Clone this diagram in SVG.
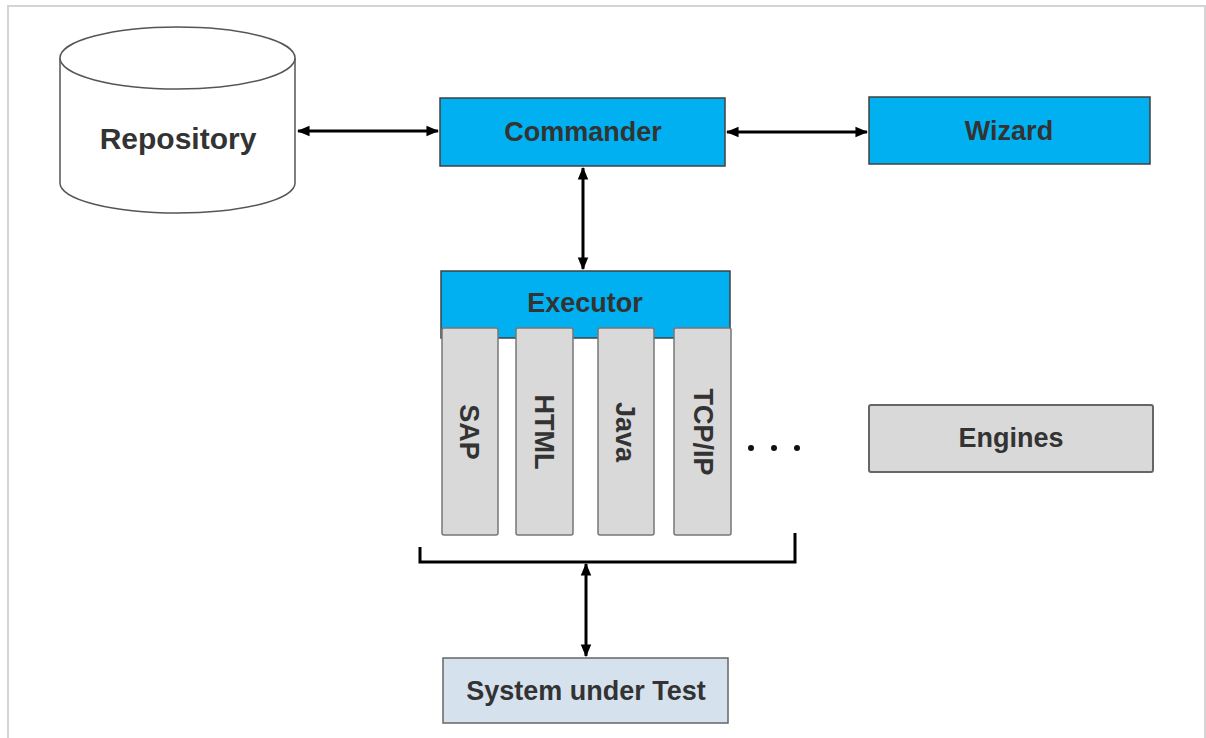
<svg xmlns="http://www.w3.org/2000/svg" width="1206" height="738" viewBox="0 0 1206 738">
<style>
.t{font-family:"Liberation Sans",Arial,sans-serif;fill:#333;text-anchor:middle;dominant-baseline:central}
.b{font-weight:bold;font-size:27px}
.blue{fill:#00B0F0;stroke:#404040;stroke-width:1.5}
.gray{fill:#D9D9D9;stroke:#666;stroke-width:2}
.col{fill:#D9D9D9;stroke:#777;stroke-width:1.5}
.conn{stroke:#000;stroke-width:3;fill:none}
</style>
<defs>
<marker id="ah" viewBox="0 0 12 10" refX="11" refY="5" markerWidth="4.2" markerHeight="3.8" orient="auto-start-reverse" markerUnits="strokeWidth">
<path d="M0,0 L12,5 L0,10 Z" fill="#000"/>
</marker>
</defs>
<rect x="0" y="0" width="1206" height="738" fill="#fff"/>
<path d="M8,740 V6 H1205 V740" fill="none" stroke="#d4d4d4" stroke-width="2"/>

<g id="repository">
<path d="M60,58 V183 A117.5,30 0 0 0 295,183 V58" fill="#fff" stroke="#555" stroke-width="1.5"/>
<ellipse cx="177.5" cy="58" rx="117.5" ry="31" fill="#fff" stroke="#555" stroke-width="1.5"/>
<text class="t" x="178" y="138" font-weight="bold" font-size="30">Repository</text>
</g>

<g id="commander">
<rect class="blue" x="440" y="98" width="285" height="68"/>
<text class="t b" x="583" y="132">Commander</text>
</g>

<g id="wizard">
<rect class="blue" x="869" y="97" width="281" height="67"/>
<text class="t b" x="1009" y="131">Wizard</text>
</g>

<g id="executor">
<rect class="blue" x="441" y="271" width="289" height="67"/>
<text class="t b" x="585" y="303">Executor</text>
</g>

<g id="engine-sap">
<rect class="col" x="442" y="328" width="56" height="207" rx="2"/>
<text class="t b" transform="translate(469,432) rotate(90)">SAP</text>
</g>
<g id="engine-html">
<rect class="col" x="516" y="328" width="57" height="207" rx="2"/>
<text class="t b" transform="translate(544,432) rotate(90)">HTML</text>
</g>
<g id="engine-java">
<rect class="col" x="598" y="328" width="56" height="207" rx="2"/>
<text class="t b" transform="translate(625,432) rotate(90)">Java</text>
</g>
<g id="engine-tcpip">
<rect class="col" x="674" y="328" width="57" height="207" rx="2"/>
<text class="t b" transform="translate(703,432) rotate(90)">TCP/IP</text>
</g>

<g id="more">
<circle cx="751" cy="448" r="3" fill="#111"/>
<circle cx="774" cy="448" r="3" fill="#111"/>
<circle cx="797" cy="448" r="3" fill="#111"/>
</g>

<g id="engines">
<rect class="gray" x="869" y="405" width="284" height="67" rx="2"/>
<text class="t b" x="1011" y="438">Engines</text>
</g>

<g id="sut">
<rect x="443" y="658" width="285" height="65" fill="#D5E2ED" stroke="#666" stroke-width="1.5"/>
<text class="t b" x="586" y="691">System under Test</text>
</g>

<g id="connectors">
<line class="conn" x1="298" y1="131" x2="438" y2="131" marker-start="url(#ah)" marker-end="url(#ah)"/>
<line class="conn" x1="727" y1="132" x2="867" y2="132" marker-start="url(#ah)" marker-end="url(#ah)"/>
<line class="conn" x1="583" y1="168" x2="583" y2="269" marker-start="url(#ah)" marker-end="url(#ah)"/>
<path class="conn" d="M420,547 V562 H795 V533"/>
<line class="conn" x1="586" y1="564" x2="586" y2="656" marker-start="url(#ah)" marker-end="url(#ah)"/>
</g>
</svg>
